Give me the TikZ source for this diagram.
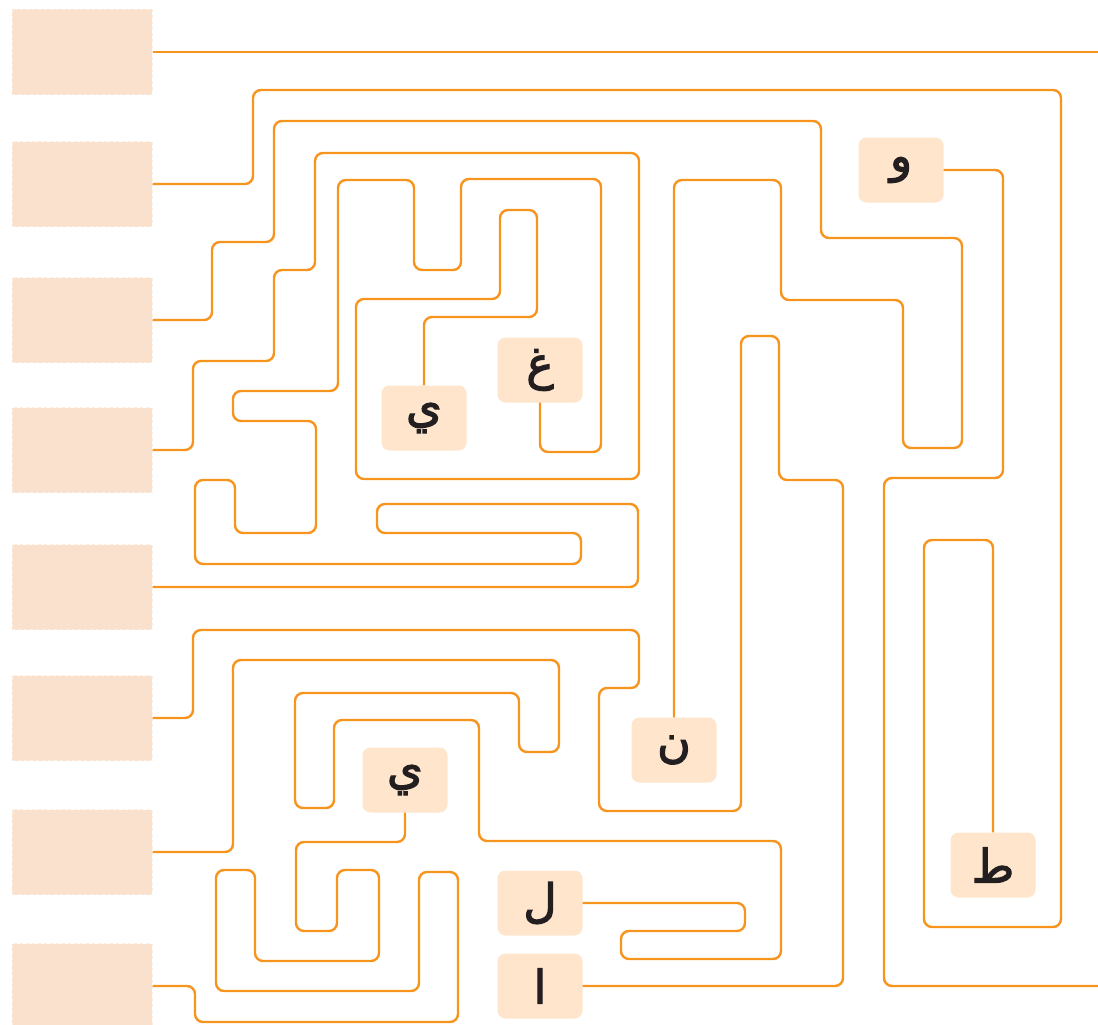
\documentclass[tikz,border=0pt]{standalone}
\usepackage{fontspec}
\newfontfamily\arabicfont[Script=Arabic,FakeBold=2.5]{DejaVu Sans}
\TeXXeTstate=1
\definecolor{lineor}{HTML}{F7941D}
\definecolor{slotfill}{HTML}{F9E1CE}
\definecolor{slotedge}{HTML}{FDEEE2}
\definecolor{letfill}{HTML}{FEE5CB}
\definecolor{letink}{HTML}{231F20}
\begin{document}
\begin{tikzpicture}[x=1pt,y=-1pt,
  slot/.style={draw=slotedge,fill=slotfill,dashed,line width=1pt,minimum width=140pt,minimum height=85pt,inner sep=0pt},
  letbox/.style={fill=letfill,rounded corners=8pt,minimum width=85pt,minimum height=65pt,inner sep=0pt,text=letink,font=\arabicfont\fontsize{46}{50}\selectfont},
  maze/.style={draw=lineor,line width=2.4pt,rounded corners=8pt}]
\useasboundingbox (0,0) rectangle (1098,1025);
% left slots
\node[slot] (b1) at (82,52) {};
\node[slot] (b2) at (82,184) {};
\node[slot] (b3) at (82,320) {};
\node[slot] (b4) at (82,450) {};
\node[slot] (b5) at (82,587) {};
\node[slot] (b6) at (82,718) {};
\node[slot] (b7) at (82,852) {};
\node[slot] (b8) at (82,986) {};
% letter boxes
\node[letbox] (w) at (901,170) {\beginR و\endR};
\node[letbox] (g) at (540,370) {\beginR غ\endR};
\node[letbox] (ya) at (424,418) {\beginR ي\endR};
\node[letbox] (yb) at (405,780) {\beginR ي\endR};
\node[letbox] (n) at (674,750) {\beginR ن\endR};
\node[letbox] (t) at (993,865) {\beginR ط\endR};
\node[letbox] (l) at (540,903) {\beginR ل\endR};
\node[letbox] (a) at (540,986) {\beginR ا\endR};
\coordinate (e1) at (1098,52);
\coordinate (e9) at (1098,986);
% paths
\draw[maze] (b1.east) -- (e1);
\draw[maze] (b2.east) -- (253,184) -- (253,90) -- (1061,90) -- (1061,927) -- (924,927) -- (924,540) -- (993,540) -- (t.north);
\draw[maze] (b3.east) -- (212,320) -- (212,242) -- (274,242) -- (274,121) -- (821,121) -- (821,238) -- (962,238) -- (962,448) -- (903,448) -- (903,300) -- (781,300) -- (781,180) -- (674,180) -- (n.north);
\draw[maze] (b4.east) -- (193,450) -- (193,361) -- (274,361) -- (274,270) -- (315,270) -- (315,153) -- (639,153) -- (639,479) -- (356,479) -- (356,299) -- (500,299) -- (500,210) -- (537,210) -- (537,317) -- (424,317) -- (ya.north);
\draw[maze] (b5.east) -- (638,587) -- (638,504) -- (377,504) -- (377,533) -- (581,533) -- (581,564) -- (195,564) -- (195,480) -- (235,480) -- (235,533) -- (316,533) -- (316,421) -- (233,421) -- (233,391) -- (338,391) -- (338,180) -- (414,180) -- (414,270) -- (461,270) -- (461,179) -- (601,179) -- (601,452) -- (540,452) -- (g.south);
\draw[maze] (b6.east) -- (193,718) -- (193,630) -- (639,630) -- (639,688) -- (599,688) -- (599,811) -- (741,811) -- (741,336) -- (779,336) -- (779,480) -- (843,480) -- (843,986) -- (a.east);
\draw[maze] (b7.east) -- (233,852) -- (233,660) -- (559,660) -- (559,752) -- (519,752) -- (519,693) -- (295,693) -- (295,808) -- (334,808) -- (334,720) -- (479,720) -- (479,841) -- (781,841) -- (781,959) -- (621,959) -- (621,931) -- (745,931) -- (745,903) -- (l.east);
\draw[maze] (b8.east) -- (195,986) -- (195,1022) -- (458,1022) -- (458,872) -- (419,872) -- (419,991) -- (216,991) -- (216,870) -- (255,870) -- (255,961) -- (379,961) -- (379,870) -- (337,870) -- (337,931) -- (296,931) -- (296,842) -- (405,842) -- (yb.south);
\draw[maze] (w.east) -- (1003,170) -- (1003,478) -- (884,478) -- (884,986) -- (e9);
\end{tikzpicture}
\end{document}
